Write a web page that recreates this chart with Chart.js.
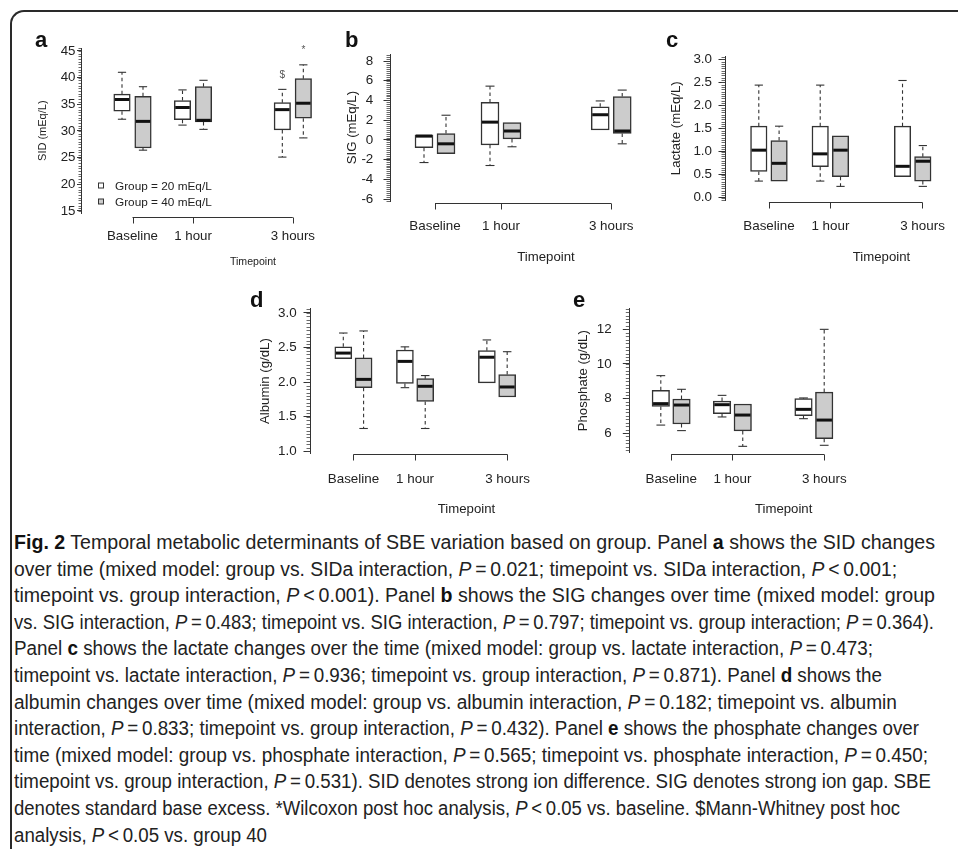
<!DOCTYPE html>
<html>
<head>
<meta charset="utf-8">
<script src="https://cdn.jsdelivr.net/npm/chart.js@4.4.0/dist/chart.umd.min.js"></script>
<style>
html,body{margin:0;padding:0;width:958px;height:849px;overflow:hidden;background:#fff;}
#frame{position:absolute;left:10px;top:10px;width:1000px;height:900px;border-left:2px solid #2a2a2a;border-top:2px solid #2a2a2a;border-top-left-radius:14px;}
canvas.panel{position:absolute;}
#caption{position:absolute;left:14px;top:529px;width:940px;font-family:"Liberation Sans",Arial,sans-serif;font-size:20px;color:#222;}
#caption div{white-space:nowrap;height:26.6px;line-height:26.6px;}
#caption span{display:inline-block;transform-origin:0 50%;}
#caption b{font-weight:bold;color:#111;}
</style>
</head>
<body>
<div id="frame"></div>
<div id="charts"></div>
<div id="caption">
<div><span><b>Fig. 2</b> Temporal metabolic determinants of SBE variation based on group. Panel <b>a</b> shows the SID changes</span></div>
<div><span>over time (mixed model: group vs. SIDa interaction, <i>P</i>&#8201;=&#8201;0.021; timepoint vs. SIDa interaction, <i>P</i>&#8201;&lt;&#8201;0.001;</span></div>
<div><span>timepoint vs. group interaction, <i>P</i>&#8201;&lt;&#8201;0.001). Panel <b>b</b> shows the SIG changes over time (mixed model: group</span></div>
<div><span>vs. SIG interaction, <i>P</i>&#8201;=&#8201;0.483; timepoint vs. SIG interaction, <i>P</i>&#8201;=&#8201;0.797; timepoint vs. group interaction; <i>P</i>&#8201;=&#8201;0.364).</span></div>
<div><span>Panel <b>c</b> shows the lactate changes over the time (mixed model: group vs. lactate interaction, <i>P</i>&#8201;=&#8201;0.473;</span></div>
<div><span>timepoint vs. lactate interaction, <i>P</i>&#8201;=&#8201;0.936; timepoint vs. group interaction, <i>P</i>&#8201;=&#8201;0.871). Panel <b>d</b> shows the</span></div>
<div><span>albumin changes over time (mixed model: group vs. albumin interaction, <i>P</i>&#8201;=&#8201;0.182; timepoint vs. albumin</span></div>
<div><span>interaction, <i>P</i>&#8201;=&#8201;0.833; timepoint vs. group interaction, <i>P</i>&#8201;=&#8201;0.432). Panel <b>e</b> shows the phosphate changes over</span></div>
<div><span>time (mixed model: group vs. phosphate interaction, <i>P</i>&#8201;=&#8201;0.565; timepoint vs. phosphate interaction, <i>P</i>&#8201;=&#8201;0.450;</span></div>
<div><span>timepoint vs. group interaction, <i>P</i>&#8201;=&#8201;0.531). SID denotes strong ion difference. SIG denotes strong ion gap. SBE</span></div>
<div><span>denotes standard base excess. *Wilcoxon post hoc analysis, <i>P</i>&#8201;&lt;&#8201;0.05 vs. baseline. $Mann-Whitney post hoc</span></div>
<div><span>analysis, <i>P</i>&#8201;&lt;&#8201;0.05 vs. group 40</span></div>
</div>
<script>
// ---------------- DATA ----------------
const timepoints = ['Baseline', '1 hour', '3 hours'];
const groupNames = ['Group = 20 mEq/L', 'Group = 40 mEq/L'];
// five-number summaries per timepoint: [lower whisker, Q1, median, Q3, upper whisker]
const sidG20 = [[32.2, 33.7, 35.9, 36.9, 41.0], [31.1, 32.1, 34.4, 35.7, 37.7], [25.1, 30.2, 34.0, 35.3, 37.8]];
const sidG40 = [[26.4, 26.8, 31.8, 36.5, 38.3], [30.3, 31.7, 32.0, 38.3, 39.5], [28.7, 32.4, 35.2, 39.8, 42.4]];
const sigG20 = [[-2.3, -0.8, 0.38, 0.5, 0.5], [-2.6, -0.5, 1.8, 3.8, 5.45], [1.0, 1.0, 2.55, 3.35, 3.95]];
const sigG40 = [[-1.4, -1.4, -0.4, 0.65, 2.5], [-0.7, 0.1, 0.9, 1.75, 1.75], [-0.4, 0.65, 0.9, 4.4, 5.05]];
const lacG20 = [[0.36, 0.57, 1.03, 1.55, 2.44], [0.36, 0.67, 0.95, 1.55, 2.44], [0.455, 0.455, 0.68, 1.55, 2.54]];
const lacG40 = [[0.36, 0.36, 0.745, 1.24, 1.55], [0.245, 0.455, 1.03, 1.34, 1.34], [0.245, 0.36, 0.79, 0.89, 1.13]];
const albG20 = [[2.34, 2.34, 2.42, 2.51, 2.71], [1.92, 1.98, 2.30, 2.465, 2.51], [1.99, 1.99, 2.36, 2.455, 2.61]];
const albG40 = [[1.33, 1.92, 2.04, 2.35, 2.74], [1.33, 1.72, 1.94, 2.05, 2.095], [1.785, 1.785, 1.93, 2.11, 2.44]];
const phoG20 = [[6.46, 7.54, 7.70, 8.47, 9.32], [6.93, 7.12, 7.64, 7.85, 8.18], [6.83, 7.0, 7.37, 7.99, 8.03]];
const phoG40 = [[6.14, 6.52, 7.62, 7.97, 8.53], [5.23, 6.12, 7.04, 7.68, 7.68], [5.29, 5.67, 6.75, 8.37, 12.0]];
// significance markers (panel a)
const sidMarksG20 = ['', '', '$'];
const sidMarksG40 = ['', '', '*'];
// y tick values and labels
const sidTicks = [15, 20, 25, 30, 35, 40, 45];
const sidTickLabels = ['15', '20', '25', '30', '35', '40', '45'];
const sigTicks = [-6, -4, -2, 0, 2, 4, 6, 8];
const sigTickLabels = ['-6', '-4', '-2', '0', '2', '4', '6', '8'];
const lacTicks = [0, 0.5, 1, 1.5, 2, 2.5, 3];
const lacTickLabels = ['0.0', '0.5', '1.0', '1.5', '2.0', '2.5', '3.0'];
const albTicks = [1, 1.5, 2, 2.5, 3];
const albTickLabels = ['1.0', '1.5', '2.0', '2.5', '3.0'];
const phoTicks = [6, 8, 10, 12];
const phoTickLabels = ['6', '8', '10', '12'];

// ---------------- LAYOUT (page pixels) ----------------
const FONT = '"Liberation Sans", Arial, Helvetica, sans-serif';
Chart.defaults.font.family = FONT;
Chart.defaults.color = '#222';

const panels = [
  {letter: 'a', g20: sidG20, g40: sidG40, marks: [sidMarksG20, sidMarksG40], legend: true,
   yTitle: 'SID (mEq/L)', ticks: sidTicks, tickLabels: sidTickLabels, yMin: 14.6, yMax: 45.5,
   L: {cx: 20, cy: 25, ch: 250, right: 425, axisX: 81, yTop: 48.3, yBot: 213.1, p1: 132.5, unit: 60.5,
       tickAt: [1, 2, 3.65], boxAt: [1, 2, 3.65], bracketY: 217.3, xLabelY: 236, xTitleY: 262, yTitleX: 43,
       majorLen: 4, minorLen: 2.5, yPad: 1.5, tickFont: 13.3, xTitleFont: 10.6, yTitleFont: 11,
       barStep: 21, barW: 16.5, minorStep: 0.5, letterX: 35, letterY: 47}},
  {letter: 'b', g20: sigG20, g40: sigG40,
   yTitle: 'SIG (mEq/L)', ticks: sigTicks, tickLabels: sigTickLabels, yMin: -6.2, yMax: 8.7,
   L: {cx: 335, cy: 25, ch: 250, right: 702, axisX: 390, yTop: 54.1, yBot: 201, p1: 435, unit: 66,
       tickAt: [1, 2, 3.67], boxAt: [1, 2, 3.67], bracketY: 202.5, xLabelY: 226.7, xTitleY: 257.3, yTitleX: 352.7,
       majorLen: 6.5, minorLen: 3.5, yPad: 10.2, tickFont: 13.4, xTitleFont: 13.2, yTitleFont: 13.2,
       barStep: 22, barW: 18, minorStep: 0.2, letterX: 345, letterY: 47}},
  {letter: 'c', g20: lacG20, g40: lacG40,
   yTitle: 'Lactate (mEq/L)', ticks: lacTicks, tickLabels: lacTickLabels, yMin: -0.05, yMax: 3.06,
   L: {cx: 655, cy: 25, ch: 250, right: 1038.4, axisX: 725, yTop: 56.5, yBot: 200, p1: 769, unit: 61.5,
       tickAt: [1, 2, 3.5], boxAt: [1, 2, 3.34], bracketY: 202.3, xLabelY: 226.7, xTitleY: 257.3, yTitleX: 676.7,
       majorLen: 6.5, minorLen: 3.5, yPad: 6.5, tickFont: 13.4, xTitleFont: 13.2, yTitleFont: 13.2,
       barStep: 20.3, barW: 16.5, minorStep: 0.05, letterX: 666, letterY: 47}},
  {letter: 'd', g20: albG20, g40: albG40,
   yTitle: 'Albumin (g/dL)', ticks: albTicks, tickLabels: albTickLabels, yMin: 0.97, yMax: 3.06,
   L: {cx: 240, cy: 280, ch: 245, right: 623.4, axisX: 310, yTop: 308.8, yBot: 453.4, p1: 353.5, unit: 61.7,
       tickAt: [1, 2, 3.5], boxAt: [1, 2, 3.33], bracketY: 454.3, xLabelY: 479, xTitleY: 509.3, yTitleX: 265,
       majorLen: 6.5, minorLen: 3.5, yPad: 6.8, tickFont: 13.4, xTitleFont: 13.2, yTitleFont: 13.2,
       barStep: 20.3, barW: 17, minorStep: 0.05, letterX: 250, letterY: 307}},
  {letter: 'e', g20: phoG20, g40: phoG40,
   yTitle: 'Phosphate (g/dL)', ticks: phoTicks, tickLabels: phoTickLabels, yMin: 4.85, yMax: 13.2,
   L: {cx: 560, cy: 280, ch: 245, right: 938.3, axisX: 629.3, yTop: 308.6, yBot: 452.9, p1: 671.2, unit: 61.3,
       tickAt: [1, 2, 3.5], boxAt: [1, 2, 3.33], bracketY: 454.3, xLabelY: 479, xTitleY: 509.3, yTitleX: 583,
       majorLen: 6.5, minorLen: 3.5, yPad: 11.1, tickFont: 13.4, xTitleFont: 13.2, yTitleFont: 13.2,
       barStep: 20.7, barW: 17.5, minorStep: 0.2, letterX: 573, letterY: 307}}
];

function makeDecor(p) {
  const L = p.L;
  return {
    id: 'decor' + p.letter,
    afterDatasetsDraw(chart) {
      const ctx = chart.ctx, ys = chart.scales.y;
      ctx.save();
      chart.data.datasets.forEach((ds, di) => {
        const meta = chart.getDatasetMeta(di);
        const stats = di === 0 ? p.g20 : p.g40;
        meta.data.forEach((bar, i) => {
          const [lo, q1, med, q3, hi] = stats[i];
          const {x, width} = bar.getProps(['x', 'width'], true);
          const capHalf = width * 0.25;
          ctx.strokeStyle = '#333';
          ctx.lineWidth = 1.1;
          const seg = (v0, v1) => {
            ctx.setLineDash([3.5, 3]);
            ctx.beginPath();
            ctx.moveTo(x, ys.getPixelForValue(v0));
            ctx.lineTo(x, ys.getPixelForValue(v1));
            ctx.stroke();
            ctx.setLineDash([]);
            const yc = ys.getPixelForValue(v1);
            ctx.beginPath();
            ctx.moveTo(x - capHalf, yc);
            ctx.lineTo(x + capHalf, yc);
            ctx.stroke();
          };
          if (hi > q3) seg(q3, hi);
          if (lo < q1) seg(q1, lo);
          // median
          ctx.strokeStyle = '#111';
          ctx.lineWidth = 3;
          const ym = ys.getPixelForValue(med);
          ctx.beginPath();
          ctx.moveTo(x - width / 2 + 1, ym);
          ctx.lineTo(x + width / 2 - 1, ym);
          ctx.stroke();
          // significance markers
          if (p.marks && p.marks[di][i]) {
            ctx.fillStyle = '#555';
            ctx.font = '10px ' + FONT;
            ctx.textAlign = 'center';
            ctx.textBaseline = 'middle';
            ctx.fillText(p.marks[di][i], x, ys.getPixelForValue(hi) - 14.5);
          }
        });
      });
      ctx.restore();
    },
    afterDraw(chart) {
      const ctx = chart.ctx, ys = chart.scales.y, xs = chart.scales.x;
      const ax = chart.chartArea.left;
      ctx.save();
      // minor ticks
      ctx.strokeStyle = '#444';
      ctx.lineWidth = 0.8;
      ctx.beginPath();
      const st = L.minorStep;
      for (let k = Math.ceil(p.yMin / st - 1e-9); k * st <= p.yMax + 1e-9; k++) {
        const yy = Math.round(ys.getPixelForValue(k * st)) + 0.5;
        ctx.moveTo(ax - L.minorLen, yy);
        ctx.lineTo(ax, yy);
      }
      ctx.stroke();
      // bracket x axis
      const by = Math.round(L.bracketY - L.cy) + 0.5;
      ctx.strokeStyle = '#333';
      ctx.lineWidth = 1;
      ctx.beginPath();
      const x0 = xs.getPixelForValue(L.tickAt[0]);
      const x1 = xs.getPixelForValue(L.tickAt[L.tickAt.length - 1]);
      ctx.moveTo(x0, by);
      ctx.lineTo(x1, by);
      L.tickAt.forEach(t => {
        const tx = Math.round(xs.getPixelForValue(t)) + 0.5;
        ctx.moveTo(tx, by);
        ctx.lineTo(tx, by + 6);
      });
      ctx.stroke();
      // panel letter
      ctx.fillStyle = '#111';
      ctx.font = 'bold 22px ' + FONT;
      ctx.textAlign = 'left';
      ctx.textBaseline = 'alphabetic';
      ctx.fillText(p.letter, L.letterX - L.cx, L.letterY - L.cy);
      // legend
      if (p.legend) {
        const fills = ['#ffffff', '#cccccc'];
        const rows = [185.5, 201.5];
        ctx.font = '11.8px ' + FONT;
        ctx.textBaseline = 'middle';
        rows.forEach((ry, gi) => {
          const yy = ry - L.cy;
          ctx.fillStyle = fills[gi];
          ctx.fillRect(98.5 - L.cx, yy - 2.5, 5, 5);
          ctx.strokeStyle = '#333';
          ctx.lineWidth = 1;
          ctx.strokeRect(98.5 - L.cx, yy - 2.5, 5, 5);
          ctx.fillStyle = '#222';
          ctx.fillText(groupNames[gi], 115 - L.cx, yy + 1);
        });
      }
      ctx.restore();
    }
  };
}

const holder = document.getElementById('charts');
panels.forEach(p => {
  const L = p.L;
  const cw = Math.round(L.right - L.cx);
  const cv = document.createElement('canvas');
  cv.className = 'panel';
  cv.width = cw; cv.height = L.ch;
  cv.style.left = L.cx + 'px'; cv.style.top = L.cy + 'px';
  cv.style.width = cw + 'px'; cv.style.height = L.ch + 'px';
  holder.appendChild(cv);

  const xMin = 1 - (L.p1 - L.axisX) / L.unit;
  const xMax = xMin + (L.right - L.axisX) / L.unit;

  const datasets = [p.g20, p.g40].map((stats, gi) => ({
    label: groupNames[gi],
    data: stats.map((s, i) => ({x: L.boxAt[i], y: [s[1], s[3]]})),
    backgroundColor: gi ? '#cccccc' : '#ffffff',
    borderColor: '#333',
    borderWidth: 1.5,
    borderSkipped: false,
    barThickness: L.barStep,
    maxBarThickness: L.barW,
    clip: false
  }));

  new Chart(cv, {
    type: 'bar',
    data: {datasets},
    options: {
      responsive: false,
      animation: false,
      devicePixelRatio: 1,
      layout: {padding: {top: L.yTop - L.cy, left: 0, right: 0, bottom: 0}},
      plugins: {legend: {display: false}, tooltip: {enabled: false}},
      scales: {
        x: {
          type: 'linear', min: xMin, max: xMax, offset: false,
          grid: {display: false, drawTicks: false},
          border: {display: false},
          afterBuildTicks: s => { s.ticks = L.tickAt.map(v => ({value: v})); },
          afterFit: s => { s.height = L.cy + L.ch - L.yBot; },
          ticks: {autoSkip: false, maxRotation: 0, minRotation: 0, color: '#222',
                  padding: L.xLabelY - L.yBot - 0.6 * L.tickFont,
                  font: {size: L.tickFont},
                  callback: (v, i) => timepoints[i]},
          title: {display: true, text: 'Timepoint', color: '#222', font: {size: L.xTitleFont},
                  padding: {top: 0, bottom: L.cy + L.ch - L.xTitleY - 0.6 * L.xTitleFont}}
        },
        y: {
          type: 'linear', min: p.yMin, max: p.yMax, beginAtZero: false,
          grid: {drawOnChartArea: false, drawTicks: true, tickLength: L.majorLen, color: '#333', lineWidth: 1},
          border: {display: true, color: '#333', width: 1},
          afterBuildTicks: s => { s.ticks = p.ticks.map(v => ({value: v})); },
          afterFit: s => { s.width = L.axisX - L.cx; },
          ticks: {autoSkip: false, color: '#222', padding: L.yPad, font: {size: L.tickFont},
                  callback: (v, i) => p.tickLabels[i]},
          title: {display: true, text: p.yTitle, color: '#222', font: {size: L.yTitleFont},
                  padding: {top: L.yTitleX - L.cx - 0.6 * L.yTitleFont, bottom: 0}}
        }
      }
    },
    plugins: [makeDecor(p)]
  });
});

// caption: condense each line slightly so its ragged right end matches the figure legend
const captionLineEnds = [935, 897, 935, 934, 873, 882, 897, 919, 928, 931, 900, 267];
(function fitCaption() {
  const spans = document.querySelectorAll('#caption span');
  spans.forEach((sp, i) => {
    const w = sp.getBoundingClientRect().width;
    const s = (captionLineEnds[i] - 14) / w;
    sp.style.transform = 'scaleX(' + s.toFixed(4) + ')';
  });
})();
</script>
</body>
</html>
